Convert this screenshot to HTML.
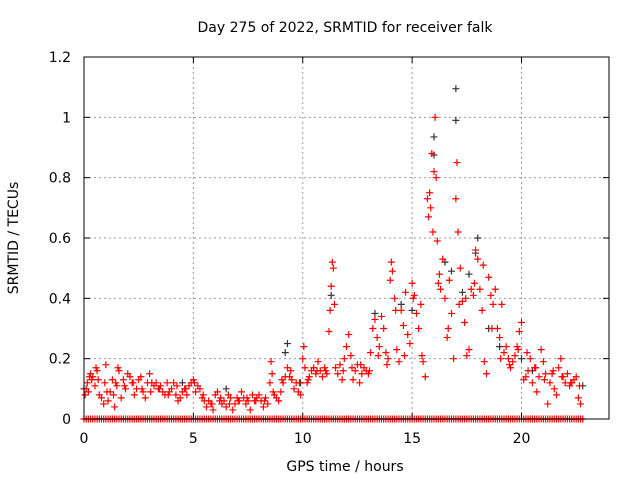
<!DOCTYPE html>
<html><head><meta charset="utf-8"><style>
body{margin:0;background:#fff}
svg{display:block;font-family:"DejaVu Sans","Liberation Sans",sans-serif}
</style></head><body>
<svg id="chart" width="640" height="480" viewBox="0 0 640 480" xmlns="http://www.w3.org/2000/svg">
<rect width="640" height="480" fill="#fff"/>
<text x="345" y="32" font-size="14" text-anchor="middle" fill="#000">Day 275 of 2022, SRMTID for receiver falk</text>
<text transform="translate(18,238) rotate(-90)" font-size="14" text-anchor="middle" fill="#000">SRMTID / TECUs</text>
<text x="345" y="471" font-size="14" text-anchor="middle" fill="#000">GPS time / hours</text>
<g id="grid"></g>
<g id="marks"></g>
<rect x="84" y="57" width="525" height="362" fill="none" stroke="#000" stroke-width="1"/>
<g id="ticks"></g>
</svg>
<script>
const xTicks=[0,5,10,15,20];
const yTicks=[0,0.2,0.4,0.6,0.8,1,1.2];
const yTickLabels=["0","0.2","0.4","0.6","0.8","1","1.2"];
const redT=[0.05,0.1,0.15,0.2,0.3,0.35,0.4,0.5,0.55,0.6,0.7,0.8,0.9,0.95,1.0,1.1,1.2,1.3,1.35,1.4,1.5,1.55,1.6,1.7,1.8,1.9,2.0,2.1,2.2,2.3,2.4,2.5,2.6,2.7,2.8,2.9,3.0,3.1,3.2,3.3,3.4,3.5,3.6,3.7,3.8,3.9,4.0,4.1,4.2,4.3,4.4,4.5,4.6,4.7,4.8,4.9,5.0,5.1,5.2,5.3,5.4,5.5,5.6,5.7,5.8,5.9,6.0,6.1,6.2,6.3,6.4,6.5,6.6,6.7,6.8,6.9,7.0,7.1,7.2,7.3,7.4,7.5,7.6,7.7,7.8,7.9,8.0,8.1,8.2,8.3,8.4,8.5,8.55,8.6,8.7,8.8,8.9,9.0,9.1,9.2,9.3,9.4,9.5,9.6,9.7,9.8,9.9,10.0,10.05,10.1,10.2,10.3,10.4,10.5,10.6,10.7,10.8,10.9,11.0,11.1,11.2,11.25,11.3,11.35,11.4,11.5,11.6,11.7,11.8,11.9,12.0,12.1,12.2,12.3,12.4,12.5,12.6,12.7,12.8,12.9,13.0,13.1,13.2,13.3,13.4,13.5,13.6,13.7,13.8,13.9,14.0,14.05,14.1,14.2,14.3,14.4,14.5,14.6,14.7,14.8,14.9,15.0,15.1,15.2,15.3,15.4,15.5,15.6,15.7,15.75,15.8,15.9,15.95,16.0,16.05,16.1,16.15,16.2,16.3,16.4,16.5,16.6,16.7,16.8,16.9,17.0,17.05,17.1,17.2,17.3,17.4,17.5,17.6,17.7,17.8,17.9,18.0,18.1,18.2,18.3,18.4,18.5,18.6,18.7,18.8,18.9,19.0,19.1,19.2,19.3,19.4,19.5,19.6,19.7,19.8,19.9,20.0,20.1,20.2,20.3,20.4,20.5,20.6,20.7,20.8,20.9,21.0,21.1,21.2,21.3,21.4,21.5,21.6,21.7,21.8,21.9,22.0,22.1,22.2,22.3,22.4,22.5,22.6,22.7,
0.25,0.65,1.05,1.45,1.85,2.25,2.65,3.05,3.45,3.85,4.25,4.65,5.05,5.45,5.85,6.25,6.65,7.05,7.45,7.85,8.25,8.65,9.05,9.45,9.85,10.25,10.65,11.05,11.45,11.85,12.25,12.65,13.05,13.45,13.85,14.25,14.65,15.05,15.45,15.85,16.25,16.65,17.15,17.45,17.85,18.25,18.65,19.05,19.45,19.85,20.25,20.65,21.05,21.45,21.85,22.25,22.65];
const redV=[.08,.1,.12,.09,.15,.13,.14,.11,.17,.16,.08,.07,.05,.12,.18,.06,.09,.13,.08,.04,.11,.17,.16,.07,.13,.10,.15,.14,.12,.08,.10,.13,.14,.09,.07,.12,.15,.12,.11,.12,.10,.11,.09,.08,.12,.09,.10,.12,.08,.06,.07,.09,.10,.08,.11,.12,.13,.09,.11,.10,.07,.06,.04,.06,.05,.03,.08,.09,.06,.05,.06,.04,.08,.07,.03,.05,.07,.06,.09,.07,.05,.06,.03,.08,.06,.07,.08,.06,.04,.07,.05,.12,.19,.15,.08,.07,.06,.09,.12,.14,.17,.14,.13,.10,.12,.09,.08,.20,.24,.17,.12,.14,.16,.17,.15,.19,.16,.14,.17,.15,.29,.36,.44,.52,.50,.17,.15,.18,.13,.20,.24,.28,.21,.13,.16,.18,.12,.15,.17,.16,.15,.22,.30,.33,.27,.24,.34,.30,.22,.20,.46,.52,.49,.40,.23,.19,.36,.31,.42,.28,.25,.45,.41,.35,.30,.38,.19,.14,.73,.67,.75,.88,.62,.82,1.0,.80,.59,.45,.43,.53,.40,.27,.46,.35,.20,.73,.85,.62,.50,.39,.32,.21,.23,.43,.41,.56,.53,.43,.36,.19,.15,.47,.41,.38,.43,.30,.27,.38,.22,.24,.20,.17,.19,.21,.24,.29,.32,.13,.14,.16,.20,.12,.17,.09,.14,.23,.19,.15,.05,.12,.15,.10,.08,.17,.20,.14,.12,.15,.11,.12,.13,.14,.07,.05,
.14,.13,.09,.12,.11,.12,.10,.09,.10,.08,.11,.10,.12,.08,.05,.07,.05,.06,.07,.06,.06,.09,.13,.16,.12,.13,.16,.16,.38,.16,.17,.18,.16,.21,.18,.36,.21,.40,.21,.70,.48,.30,.38,.40,.45,.51,.30,.20,.18,.23,.22,.17,.13,.16,.14,.12,.11];
const grayT=[0.0,4.5,6.5,9.2,9.3,9.9,11.3,13.3,14.5,15.0,16.0,16.0,16.5,16.8,17.0,17.0,17.3,17.6,17.9,18.0,18.5,19.0,20.0,20.5,22.8];
const grayV=[.10,.12,.10,.22,.25,.12,.41,.35,.38,.36,.935,.875,.52,.49,1.095,.99,.42,.48,.55,.60,.30,.24,.20,.16,.11];
const zeroStart=0, zeroEnd=22.8, zeroStep=0.1;

const X0=84,X1=609,Y0=419,Y1=57;
const xs=t=>X0+(t/24)*(X1-X0);
const ys=v=>Y0-(v/1.2)*(Y0-Y1);
const NS="http://www.w3.org/2000/svg";
const grid=document.getElementById('grid'),marks=document.getElementById('marks'),ticks=document.getElementById('ticks');
function mk(tag,attrs,parent){const e=document.createElementNS(NS,tag);for(const k in attrs)e.setAttribute(k,attrs[k]);parent.appendChild(e);return e;}
xTicks.forEach(t=>{const x=xs(t);
 if(t>0){const g=mk('line',{x1:x,x2:x,y1:Y0,y2:Y1,stroke:'#999','stroke-dasharray':'2,3'},grid);
 
 }
 mk('line',{x1:x,x2:x,y1:Y0,y2:Y0-6,stroke:'#000'},ticks);
 mk('line',{x1:x,x2:x,y1:Y1,y2:Y1+6,stroke:'#000'},ticks);
 const l=mk('text',{x:x,y:443,'font-size':14,'text-anchor':'middle'},ticks);l.textContent=String(t);
 
 
});
yTicks.forEach((v,i)=>{const y=ys(v);
 if(v>0&&v<1.2){const g=mk('line',{x1:X0,x2:X1,y1:y,y2:y,stroke:'#999','stroke-dasharray':'2,3'},grid);
 
 }
 mk('line',{x1:X0,x2:X0+6,y1:y,y2:y,stroke:'#000'},ticks);
 mk('line',{x1:X1,x2:X1-6,y1:y,y2:y,stroke:'#000'},ticks);
 const l=mk('text',{x:71,y:y+5,'font-size':14,'text-anchor':'end'},ticks);l.textContent=yTickLabels[i];
 
 
});
function plus(t,v,col,name){const x=xs(t),y=ys(v);
 const p=mk('path',{d:`M${x-3.5},${y}H${x+3.5}M${x},${y-3.5}V${y+3.5}`,stroke:col,'stroke-width':1.2,fill:'none'},marks);
 
 }
grayT.forEach((t,i)=>plus(t,grayV[i],'#333','gray-point'));
redT.forEach((t,i)=>plus(t,redV[i],'#f00','red-point'));
for(let t=zeroStart;t<=zeroEnd+1e-9;t+=zeroStep)plus(t,0,'#f00','zero-point');
</script>
</body></html>
